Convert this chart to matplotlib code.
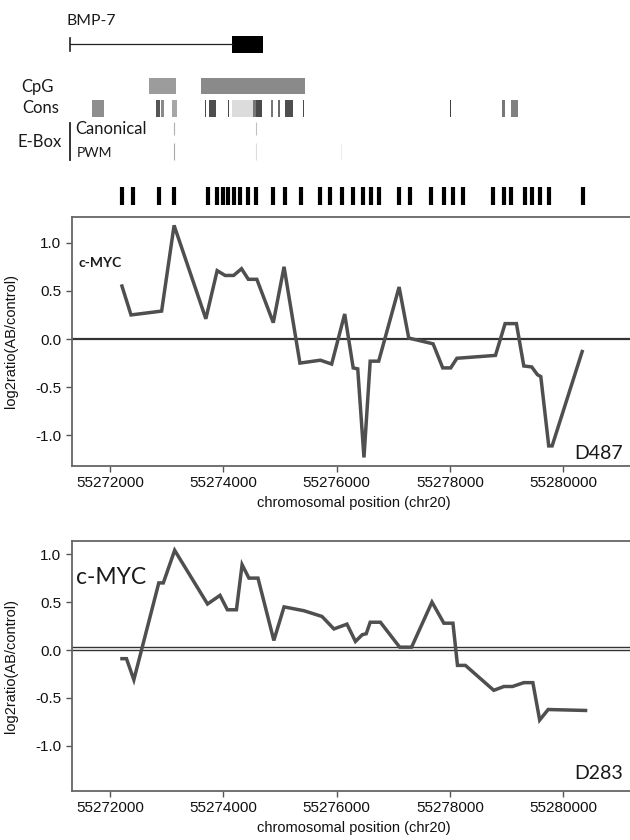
import matplotlib
matplotlib.use("Agg")
import matplotlib.pyplot as plt

plt.rcParams['font.family'] = ['Liberation Sans', 'DejaVu Sans']
plt.rcParams['axes.unicode_minus'] = False

# probe positions (marker track above the plots)
probe_pos = [55272210, 55272400, 55272860, 55273120, 55273720, 55273890, 55273990,
             55274080, 55274190, 55274290, 55274440, 55274570, 55274870, 55275080,
             55275370, 55275710, 55275880, 55276100, 55276280, 55276460, 55276610,
             55276750, 55277090, 55277290, 55277660, 55277900, 55278050, 55278230,
             55278760, 55278950, 55279080, 55279320, 55279450, 55279590, 55279750,
             55280340]

# D487 profile
d487_pos = [55272210, 55272370, 55272910, 55273130, 55273690, 55273890, 55274030,
            55274180, 55274320, 55274440, 55274590, 55274880, 55275070, 55275350,
            55275710, 55275910, 55276140, 55276290, 55276370, 55276480, 55276590,
            55276740, 55277100, 55277270, 55277700, 55277870, 55278010, 55278120,
            55278800, 55278970, 55279170, 55279300, 55279440, 55279540, 55279600,
            55279740, 55279800, 55280330]
d487_val = [0.55, 0.25, 0.29, 1.18, 0.21, 0.71, 0.66, 0.66, 0.73, 0.62, 0.62,
            0.17, 0.75, -0.25, -0.22, -0.26, 0.26, -0.30, -0.31, -1.23, -0.23,
            -0.23, 0.54, 0.01, -0.05, -0.30, -0.30, -0.20, -0.17, 0.16, 0.16,
            -0.28, -0.29, -0.37, -0.39, -1.11, -1.11, -0.13]

# D283 profile
d283_pos = [55272210, 55272290, 55272420, 55272860, 55272940, 55273140, 55273720,
            55273940, 55274070, 55274230, 55274330, 55274450, 55274610, 55274890,
            55275070, 55275420, 55275740, 55275950, 55276180, 55276330, 55276450,
            55276520, 55276590, 55276770, 55277110, 55277320, 55277680, 55277890,
            55278050, 55278130, 55278270, 55278770, 55278950, 55279100, 55279300,
            55279460, 55279580, 55279730, 55280390]
d283_val = [-0.09, -0.09, -0.31, 0.70, 0.70, 1.04, 0.48, 0.57, 0.42, 0.42, 0.89,
            0.75, 0.75, 0.10, 0.45, 0.41, 0.35, 0.22, 0.27, 0.09, 0.16, 0.17,
            0.29, 0.29, 0.03, 0.03, 0.50, 0.28, 0.28, -0.16, -0.16, -0.42, -0.38,
            -0.38, -0.34, -0.34, -0.73, -0.62, -0.63]

# annotation tracks (start, end) in bp
gene_start, gene_exon = 55271294, (55274154, 55274701)
cpg_islands = [(55272688, 55273165), (55273606, 55275442)]
cpg_grays = ['#9c9c9c', '#8a8a8a']
cons_blocks = [(55271682, 55271894), (55272812, 55272883), (55272900, 55272953),
               (55273094, 55273183), (55273668, 55273695), (55273748, 55273862),
               (55274083, 55274101), (55274145, 55274515), (55274515, 55274568),
               (55274568, 55274683), (55274833, 55274868), (55274957, 55275001),
               (55275080, 55275230), (55275407, 55275425), (55277993, 55278011),
               (55278920, 55278973), (55279079, 55279202)]
cons_grays = ['#8e8e8e', '#555555', '#8a8a8a', '#a6a6a6', '#4a4a4a', '#4e4e4e',
              '#4a4a4a', '#dcdcdc', '#777777', '#4a4a4a', '#777777', '#6a6a6a',
              '#4e4e4e', '#4a4a4a', '#404040', '#777777', '#808080']
ebox_canonical = [55273126, 55274572]
ebox_pwm = [55273126, 55274572, 55276078]

xticks = [55272000, 55274000, 55276000, 55278000, 55280000]
yticks = [-1.0, -0.5, 0.0, 0.5, 1.0]
xlim = (55271320, 55281285)

fig = plt.figure(figsize=(6.3, 8.4), dpi=100)

# ---- annotation tracks on top ----
top = fig.add_axes([0, 0.7476, 1.01, 0.2524])
top.set_xlim(55270058, 55281285)
top.set_ylim(212, 0)
top.axis('off')
lab = top.get_yaxis_transform()
lab_font = dict(family=['Lato', 'DejaVu Sans'], color='#1a1a1a')

top.text(0.104, 21, 'BMP-7', transform=lab, fontsize=11.3, va='center', **lab_font)
top.plot([gene_start, gene_exon[0]], [44, 44], color='#222222', lw=0.9)
top.plot([gene_start, gene_start], [38, 51], color='#222222', lw=1.2)
top.broken_barh([(gene_exon[0], gene_exon[1] - gene_exon[0])], (36, 17), facecolors='black')

top.text(0.034, 87, 'CpG', transform=lab, fontsize=12, va='center', **lab_font)
top.broken_barh([(s, e - s) for s, e in cpg_islands], (78, 16), facecolors=cpg_grays)

top.text(0.035, 108, 'Cons', transform=lab, fontsize=12, va='center', **lab_font)
top.broken_barh([(s, max(e - s, 18)) for s, e in cons_blocks], (100, 17), facecolors=cons_grays)

top.text(0.028, 142, 'E-Box', transform=lab, fontsize=12, va='center', **lab_font)
top.plot([0.110, 0.110], [123, 160], transform=lab, color='#222222', lw=1.3)
top.text(0.118, 129, 'Canonical', transform=lab, fontsize=12, va='center', **lab_font)
top.text(0.120, 153, 'PWM', transform=lab, fontsize=10, va='center', **lab_font)
top.vlines(ebox_canonical, 122, 135, colors=['#b0b0b0', '#c0c0c0'], lw=0.8)
top.vlines(ebox_pwm, 143, 160, colors=['#a8a8a8', '#dddddd', '#eeeeee'], lw=0.8)

top.vlines(probe_pos, 187, 205, colors='black', lw=3.0)


def profile(ax, pos, val, tag, tag_size, name, ylim, zero_lines):
    ax.set_xlim(*xlim)
    ax.set_ylim(*ylim)
    for z in zero_lines:
        ax.axhline(z, color='#333333', lw=1.6 if len(zero_lines) == 1 else 1.0)
    ax.plot(pos, val, color='#4f4f4f', lw=2.5, solid_joinstyle='miter')
    ax.set_xticks(xticks)
    ax.set_xticklabels([str(t) for t in xticks])
    ax.set_yticks(yticks)
    ax.set_yticklabels(['%.1f' % t for t in yticks])
    ax.tick_params(labelsize=11, color='#555555', length=4, width=1, labelcolor='#111111')
    for s in ax.spines.values():
        s.set_color('#666666')
        s.set_linewidth(1.3)
    ax.set_xlabel('chromosomal position (chr20)', fontsize=10.5, color='#111111')
    ax.set_ylabel('log2ratio(AB/control)', fontsize=10.5, color='#111111')
    ax.yaxis.set_label_coords(-0.095, 0.5)
    ax.text(tag[0], tag[1], 'c-MYC', transform=ax.transAxes, fontsize=tag_size,
            va='center', ha='left', family=['Lato', 'DejaVu Sans'], color='#1a1a1a',
            fontweight='bold' if tag_size < 12 else 'normal')
    ax.text(0.9765, name[1], name[0], transform=ax.transAxes, fontsize=14,
            va='center', ha='right', family=['Lato', 'DejaVu Sans'], color='#1a1a1a')


ax1 = fig.add_axes([0.1135, 0.4452, 0.8965, 0.2968])
profile(ax1, d487_pos, d487_val, (0.0115, 0.814), 10, ('D487', 0.052), (-1.319, 1.27), [0.0])

ax2 = fig.add_axes([0.1135, 0.0583, 0.8965, 0.298])
profile(ax2, d283_pos, d283_val, (0.008, 0.855), 16.5, ('D283', 0.072), (-1.47, 1.14), [0.0, 0.03])

fig.savefig('out.png', dpi=100)
